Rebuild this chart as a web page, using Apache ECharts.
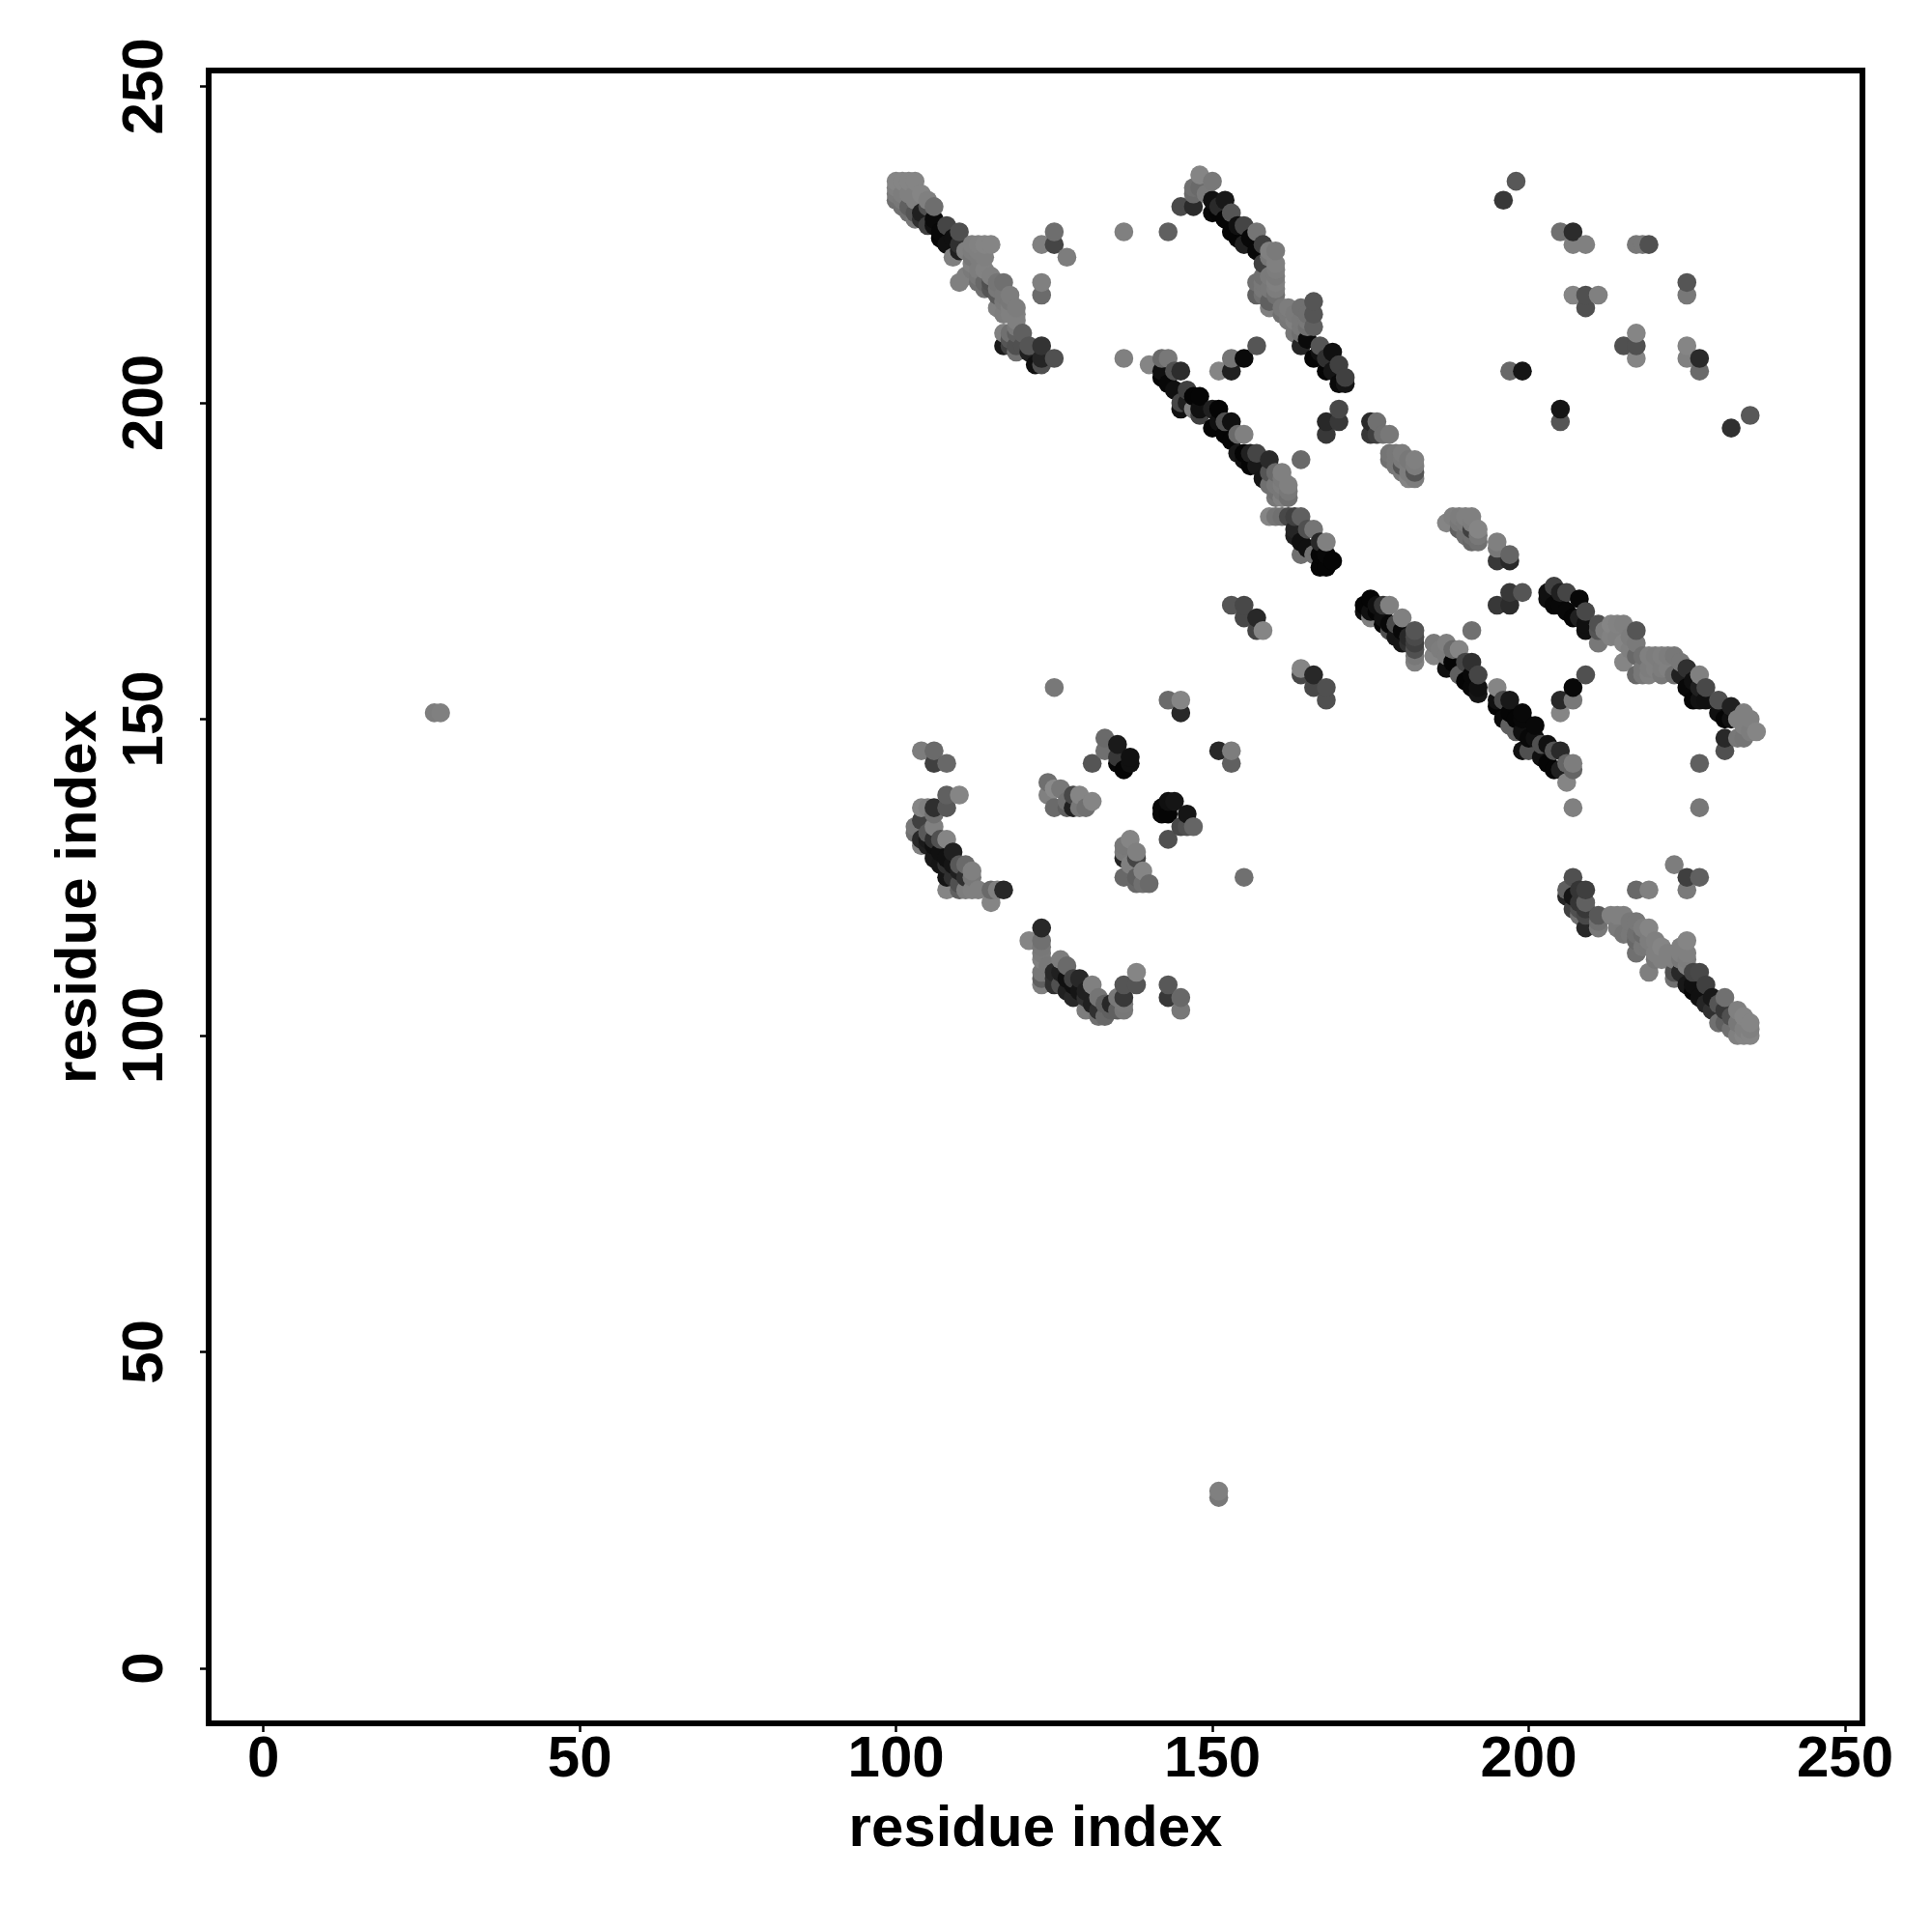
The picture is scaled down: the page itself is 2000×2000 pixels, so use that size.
<!DOCTYPE html>
<html><head><meta charset="utf-8">
<style>html,body{margin:0;padding:0;background:#fff}#c{width:2000px;height:2000px}</style>
<script src="https://cdn.jsdelivr.net/npm/echarts@6/dist/echarts.min.js"></script>
</head><body><div id="c"></div>
<script>
// every contact: [residue i, residue j, grey level 0-255]
const tickValues = [0, 50, 100, 150, 200, 250];
const stray = [[27,151,0x7d],[28,151,0x80],[151,28,0x80],[151,27,0x78]];
const topLeftHelix = [
[100,235,0x85],[101,235,0x85],[102,235,0x85],[103,235,0x85],[100,234,0x80],[100,233,0x7a],[101,233,0x7d],[102,233,0x80],[103,233,0x80],[104,233,0x85],
[100,232,0x70],[101,232,0x78],[101,231,0x70],[102,231,0x60],[103,232,0x80],[105,232,0x80],[102,230,0x70],[103,230,0x55],[104,230,0x20],[103,229,0x78],[104,229,0x30],
[105,231,0x50],[106,231,0x6e],[105,228,0x40],[106,228,0x10],[106,229,0x0a],[107,226,0x05],[107,227,0x08],[108,228,0x45],[108,225,0x10],[109,226,0x10],[109,223,0x80],[110,227,0x4f],
[110,224,0x20],[110,225,0x30],[111,224,0x80],[111,220,0x80],[110,219,0x80],[112,225,0x80],[113,225,0x82],[114,225,0x85],[115,225,0x85],[113,224,0x80],[112,222,0x80],
[113,220,0x78],[113,219,0x70],[114,221,0x82],[114,218,0x70],[115,220,0x80],[115,218,0x55],[116,217,0x5a],[116,215,0x80],[117,219,0x70],[118,217,0x7d],[118,216,0x78],[119,215,0x7d],[119,213,0x80],
[117,211,0x80],[120,211,0x60],[119,209,0x50],[117,209,0x1a],[118,209,0x40],[119,208,0x70],[120,209,0x50],[121,209,0x55],[121,208,0x20],[122,206,0x10],[123,206,0x50],[123,209,0x33],[123,207,0x25],[125,207,0x50]];
const topLeftExtras = [[125,227,0x6e],[125,225,0x45],[123,225,0x80],[127,223,0x7d],[123,219,0x80],[123,217,0x6b],[136,227,0x80],[143,227,0x60],[136,207,0x80],[140,206,0x85],
[157,209,0x55],[153,207,0x75],[155,207,0x0a],[151,205,0x85],[153,205,0x20]];
const upperMiddleHelix = [
[148,236,0x85],[150,235,0x78],[147,234,0x70],[148,234,0x6a],[147,233,0x6a],[149,233,0x7a],[145,231,0x4a],[147,231,0x2a],[150,232,0x10],[152,232,0x18],[150,230,0x08],[151,231,0x2a],[151,230,0x05],[152,229,0x05],[153,230,0x55],
[153,227,0x05],[154,228,0x10],[155,228,0x45],[154,226,0x05],[155,225,0x20],[156,226,0x08],[157,227,0x75],[157,224,0x08],[158,225,0x40],[158,222,0x40],[159,224,0x80],[159,223,0x78],[160,224,0x7a],[160,222,0x80],[160,221,0x7d],[160,220,0x7a],[160,219,0x80],
[157,219,0x70],[157,217,0x60],[158,218,0x78],[159,216,0x60],[159,215,0x80],[160,217,0x70],[162,215,0x7d],[163,213,0x80],[163,211,0x78],[164,213,0x78],[165,214,0x70],
[166,214,0x55],[166,212,0x60],[164,209,0x25],[167,209,0x55],[165,210,0x0a],[169,208,0x10],[166,207,0x05],[167,208,0x10],[168,205,0x05],[168,207,0x30],[170,206,0x40],[169,205,0x15],[171,204,0x40],[170,203,0x0a],[171,203,0x15]];
const lowerBlock = [[170,199,0x48],[168,197,0x28],[170,197,0x38],[168,195,0x38]];
const midHelix = [
[142,207,0x6a],[143,207,0x78],[142,204,0x05],[142,205,0x10],[143,203,0x08],[144,205,0x50],[145,205,0x2c],[144,202,0x10],[145,200,0x45],[145,199,0x10],[146,202,0x40],[146,200,0x20],[147,201,0x05],[148,201,0x05],[147,199,0x80],[148,198,0x40],[148,199,0x10],
[150,199,0x20],[151,199,0x05],[150,196,0x05],[151,197,0x10],[152,197,0x50],[153,197,0x10],[152,195,0x05],[153,194,0x05],[154,195,0x6a],[155,195,0x80],
[154,192,0x18],[155,192,0x05],[155,191,0x10],[156,190,0x05],[156,192,0x20],[157,192,0x45],[157,190,0x18],[158,188,0x15],[159,191,0x2a],[159,189,0x55],[160,189,0x6a],[161,189,0x80],[159,187,0x70],[160,185,0x78],[161,187,0x7d],[161,185,0x80],[162,187,0x80],[162,185,0x70],[162,186,0x78],[164,191,0x6a]];
const midHelix2 = [
[159,182,0x85],[160,182,0x75],[161,182,0x70],[162,182,0x48],[163,182,0x40],[164,182,0x60],[163,180,0x25],[163,179,0x20],[164,178,0x10],[165,177,0x10],[165,180,0x50],[166,180,0x75],[164,176,0x70],[166,176,0x70],[167,176,0x05],[167,178,0x28],
[168,178,0x80],[168,176,0x08],[169,175,0x05],[167,174,0x05],[168,174,0x05]];
const smallSegments = [
[175,197,0x2a],[176,197,0x70],[175,195,0x38],[176,195,0x40],[177,195,0x70],[178,195,0x78],
[178,192,0x75],[179,192,0x78],[180,192,0x7d],[178,191,0x70],[179,190,0x78],[180,189,0x7a],[180,190,0x55],[181,189,0x7d],[182,191,0x80],[182,190,0x7d],[182,189,0x55],[181,188,0x85],[182,188,0x7d],
[187,181,0x85],[188,182,0x80],[189,182,0x7d],[190,182,0x80],[191,182,0x80],[189,180,0x60],[190,179,0x70],[190,181,0x7a],[191,180,0x40],[192,180,0x85],[192,178,0x70],[192,179,0x78],
[195,178,0x80],[195,177,0x78],[197,176,0x65],[195,175,0x38],[197,175,0x28],[197,170,0x38],[199,170,0x55],[195,168,0x38],[197,168,0x2c],
[153,168,0x55],[155,168,0x48],[157,166,0x28],[155,166,0x48],[157,164,0x45],[158,164,0x85],[164,158,0x85],[164,157,0x48],[166,157,0x28],[166,155,0x48],[168,155,0x50],[168,153,0x50],[191,164,0x70]];
const lowerHelix = [
[175,169,0x05],[174,168,0x05],[174,167,0x10],[175,167,0x10],[176,168,0x10],[177,168,0x35],[176,167,0x05],[178,168,0x80],[175,166,0x80],[177,166,0x10],[177,165,0x05],[178,164,0x50],[179,165,0x4a],[178,165,0x08],[179,163,0x15],[180,166,0x80],[180,162,0x15],[180,164,0x08],
[182,164,0x55],[182,163,0x4a],[182,162,0x40],[182,161,0x50],[182,160,0x78],[182,159,0x80],[181,163,0x28],[181,162,0x30],
[185,162,0x7a],[185,160,0x85],[186,161,0x7d],[187,162,0x80],[187,160,0x7d],[188,161,0x6a],[189,161,0x85],[187,158,0x10],[188,159,0x05],[190,159,0x45],[191,159,0x30],[190,156,0x05],[191,155,0x08],[191,157,0x08],[192,157,0x45],[192,155,0x10],[192,154,0x15],[189,157,0x60],
[195,155,0x85],[196,153,0x4a],[197,153,0x18],[195,152,0x05],[195,153,0x10],[196,150,0x0a],[197,151,0x05],[197,149,0x60],[198,148,0x60],[198,150,0x05],[199,151,0x08],[199,148,0x10],[199,150,0x08],[199,145,0x10],[200,145,0x50],[200,147,0x08],[201,149,0x08],[201,147,0x10],[202,146,0x50],[202,144,0x10],
[203,143,0x05],[203,146,0x10],[204,145,0x55],[204,142,0x05],[205,145,0x2a],[205,142,0x20],[206,143,0x65],[207,143,0x7d],[207,142,0x65],[206,140,0x85],[207,136,0x80]];
const centreRight = [[205,153,0x28],[207,153,0x78],[207,155,0x08],[209,157,0x50],[205,151,0x85]];
const rightHelix = [
[203,170,0x10],[203,169,0x10],[204,171,0x40],[204,168,0x08],[205,168,0x08],[205,170,0x20],[206,170,0x45],[206,167,0x08],[207,166,0x05],[208,169,0x08],[208,166,0x20],[209,167,0x48],[209,164,0x10],[209,165,0x10],[211,165,0x50],[211,164,0x55],[211,162,0x78],[212,164,0x7d],[213,165,0x85],[214,165,0x82],[215,165,0x80],[213,163,0x82],[215,162,0x85],[215,159,0x85],[214,163,0x80],[217,164,0x55],
[217,160,0x68],[217,157,0x68],[218,157,0x78],[218,160,0x70],[219,160,0x80],[219,157,0x80],[220,158,0x80],[220,160,0x7d],[221,160,0x80],[222,160,0x7d],[223,160,0x78],[222,158,0x80],[223,157,0x70],[224,159,0x78],[225,158,0x30],[224,157,0x20],[225,155,0x08],[226,153,0x05],[226,156,0x10],[227,157,0x80],[227,155,0x20],[227,153,0x12],[228,155,0x48],[228,153,0x10],[230,153,0x50],[230,151,0x10],[231,150,0x05],[232,152,0x20],[232,150,0x10],
[233,150,0x80],[234,151,0x80],[235,150,0x80],[236,148,0x85],[234,147,0x75],[233,147,0x78],[234,149,0x80],[235,148,0x7d],[231,147,0x28],[231,145,0x50],[227,143,0x60],[227,136,0x78]];
const topRightCloud = [[196,232,0x38],[198,235,0x58],[205,227,0x70],[207,227,0x2c],[207,225,0x80],[209,225,0x80],[217,225,0x78],[218,225,0x78],[219,225,0x50],[225,219,0x55],[225,217,0x78],
[207,217,0x85],[209,217,0x50],[211,217,0x80],[209,215,0x50],[217,211,0x85],[215,209,0x50],[217,209,0x50],[217,207,0x85],[225,209,0x85],[225,207,0x80],[227,207,0x2a],[227,205,0x6a],[197,205,0x68],[199,205,0x15],[205,199,0x15],[205,197,0x55],[232,196,0x30],[235,198,0x58]];
const centreCloud = [[125,155,0x78],[143,153,0x6a],[145,153,0x85],[145,151,0x28],[151,145,0x28],[153,145,0x7d],[153,143,0x60],[104,145,0x7d],[106,145,0x6a],[106,143,0x40],[108,143,0x68],
[133,147,0x6a],[133,145,0x70],[135,146,0x1a],[135,144,0x38],[137,144,0x10],[131,143,0x55],[135,143,0x08],[136,142,0x05],[137,143,0x10],
[124,140,0x6f],[124,138,0x80],[125,139,0x8a],[126,139,0x78],[125,136,0x6a],[128,138,0x48],[129,138,0x85],[128,136,0x20],[129,136,0x78],[130,136,0x70],[131,137,0x85],[127,137,0x70],[127,136,0x60],
[142,136,0x08],[143,137,0x10],[144,137,0x15],[143,135,0x05],[142,135,0x08],[146,135,0x15],[145,133,0x48],[146,133,0x50],[147,133,0x65],[143,131,0x50],[155,125,0x70],
[137,131,0x85],[136,130,0x78],[136,129,0x7a],[138,129,0x80],[136,128,0x25],[138,128,0x45],[137,127,0x80],[139,126,0x85],[136,125,0x68],[138,125,0x60],[138,124,0x68],[139,124,0x70],[140,124,0x6a]];
const curvedHelix = [
[108,138,0x60],[110,138,0x85],[104,136,0x85],[105,136,0x80],[106,136,0x2f],[108,136,0x58],[106,135,0x70],[103,133,0x78],[103,132,0x70],[104,134,0x40],[104,131,0x28],[104,130,0x80],[105,132,0x58],[105,131,0x1a],[105,130,0x20],[106,133,0x80],[106,131,0x30],[106,130,0x10],[106,128,0x18],
[107,131,0x50],[107,129,0x10],[107,127,0x15],[108,131,0x85],[108,128,0x10],[108,127,0x30],[108,125,0x15],[108,123,0x85],[109,129,0x20],[109,127,0x15],[109,125,0x30],[110,127,0x58],[110,126,0x20],[110,124,0x50],[110,123,0x60],[111,127,0x6a],[111,125,0x30],[111,123,0x7d],[112,126,0x80],[112,125,0x78],[112,123,0x80],[113,123,0x80],[115,123,0x6a],[115,121,0x85],[116,123,0x80],[117,123,0x28]];
const bottomHelix = [
[123,117,0x28],[121,115,0x85],[123,115,0x70],[123,114,0x78],[123,113,0x7a],[123,112,0x80],[123,110,0x78],[123,109,0x60],[123,108,0x80],[124,111,0x78],[125,110,0x28],[125,109,0x30],[125,108,0x30],[126,112,0x7d],[126,110,0x20],[126,108,0x50],[127,111,0x6a],[127,109,0x10],[127,107,0x20],
[128,109,0x40],[128,106,0x28],[128,108,0x10],[129,109,0x28],[129,107,0x15],[130,107,0x20],[130,104,0x7d],[130,106,0x30],[131,108,0x80],[131,105,0x20],[132,106,0x75],[132,103,0x70],[132,104,0x30],[133,105,0x60],[133,103,0x68],[134,104,0x60],[134,105,0x28],[135,106,0x78],[135,104,0x60],[136,108,0x55],[136,106,0x38],[136,104,0x78],[136,105,0x7a],[138,108,0x55],[138,110,0x85],[143,108,0x58],[143,106,0x38],[145,106,0x68],[145,104,0x78]];
const lowerRightHelix = [
[223,127,0x7d],[225,125,0x3f],[227,125,0x60],[225,123,0x7a],[217,123,0x68],[219,123,0x80],[207,125,0x50],[206,123,0x60],[206,122,0x25],[207,122,0x15],[208,123,0x35],[209,123,0x3f],[207,120,0x40],[208,121,0x35],[209,121,0x60],[208,120,0x50],[209,120,0x38],[208,119,0x70],[209,119,0x48],[209,117,0x28],[211,119,0x58],[211,117,0x78],[211,118,0x70],
[213,119,0x80],[214,119,0x80],[215,119,0x80],[214,117,0x7a],[215,116,0x75],[216,118,0x78],[217,118,0x78],[217,115,0x68],[217,113,0x70],[218,116,0x6a],[219,117,0x85],[218,114,0x78],[220,115,0x80],[220,113,0x80],[221,114,0x85],[221,112,0x80],[219,110,0x7f],[222,113,0x80],[223,109,0x70],[223,110,0x50],[224,112,0x78],[224,110,0x28],[225,115,0x85],[225,113,0x80],[225,108,0x18],[225,111,0x80],
[226,110,0x45],[226,107,0x05],[226,108,0x10],[227,110,0x48],[227,106,0x10],[228,108,0x40],[228,105,0x25],[229,106,0x18],[229,104,0x30],[230,105,0x55],[230,102,0x70],[231,106,0x70],[231,102,0x60],[231,104,0x38],[232,101,0x70],[232,103,0x50],[233,104,0x80],[233,100,0x80],[233,102,0x78],[234,103,0x85],[234,101,0x80],[234,100,0x85],[235,102,0x85],[235,100,0x85],[235,101,0x80]];
const denseFill = [
[112,224,0x7d],[112,223,0x78],[113,223,0x7d],[114,223,0x80],[112,221,0x7a],[113,221,0x7d],[114,219,0x68],[115,219,0x50],[116,219,0x75],[116,218,0x78],[117,217,0x78],[117,216,0x7a],[117,214,0x7d],[118,215,0x80],[118,214,0x80],[119,214,0x80],[119,212,0x78],[118,211,0x70],[119,211,0x60],[118,210,0x55],
[158,220,0x70],[158,219,0x78],[158,217,0x70],[159,220,0x7a],[159,218,0x78],[160,218,0x7d],[161,215,0x78],[161,214,0x70],[162,214,0x7a],[162,213,0x78],[163,214,0x7a],[164,215,0x70],[164,212,0x78],[164,211,0x70],[165,213,0x78],[165,212,0x70],[166,216,0x55],
[160,187,0x78],[160,186,0x70],[161,188,0x7a],[161,186,0x78],
[179,191,0x78],[180,191,0x7a],[181,191,0x78],[181,190,0x7d],[189,181,0x78],[191,181,0x7d],[191,179,0x70],[191,178,0x68],
[216,163,0x7d],[216,161,0x80],[217,162,0x7a],[218,158,0x78],[219,158,0x7d],[221,158,0x7d],[221,157,0x78],
[216,116,0x78],[217,116,0x70],[218,117,0x7d],[219,115,0x7d],[219,114,0x78],[220,112,0x78],[222,112,0x80],[223,112,0x80],[224,114,0x80],[224,113,0x80],[225,112,0x7d]];

const contacts = [].concat(stray, topLeftHelix, topLeftExtras, upperMiddleHelix, lowerBlock, midHelix, midHelix2, smallSegments, lowerHelix, centreRight, rightHelix, topRightCloud, centreCloud, curvedHelix, bottomHelix, lowerRightHelix, denseFill)
  .sort((a, b) => a[0] - b[0] || a[1] - b[1]);

const labelStyle = { color: '#000', fontFamily: 'Liberation Sans', fontWeight: 'bold', fontSize: 60 };
const axisBase = {
  type: 'value', min: -8.66, max: 252.6, name: 'residue index', nameLocation: 'middle', nameMoveOverlap: false,
  nameTextStyle: Object.assign({}, labelStyle),
  splitLine: { show: false }, axisLine: { show: false, onZero: false },
  axisTick: { show: true, length: 9, lineStyle: { color: '#000', width: 2.5 }, customValues: tickValues }
};
const chart = echarts.init(document.getElementById('c'), null, { renderer: 'canvas' });
chart.setOption({
  animation: false,
  backgroundColor: '#fff',
  grid: { left: 216, right: 72, top: 73, bottom: 216, show: true, borderColor: '#000', borderWidth: 6, backgroundColor: 'transparent' },
  xAxis: Object.assign({}, axisBase, { max: 252.75, nameGap: 80,
    axisLabel: Object.assign({}, labelStyle, { margin: 8, customValues: tickValues, showMinLabel: true, showMaxLabel: true }) }),
  yAxis: Object.assign({}, axisBase, { min: -8.7, max: 252.5, nameGap: 104, nameRotate: 90,
    axisLabel: Object.assign({}, labelStyle, { rotate: 90, margin: 35, customValues: tickValues, showMinLabel: true, showMaxLabel: true }) }),
  series: [{
    type: 'scatter', symbol: 'circle', symbolSize: 19.6, clip: false, large: false, progressive: 0,
    data: contacts,
    itemStyle: { opacity: 1, color: p => { const g = p.data[2]; return 'rgb(' + g + ',' + g + ',' + g + ')'; } }
  }]
});
</script></body></html>
